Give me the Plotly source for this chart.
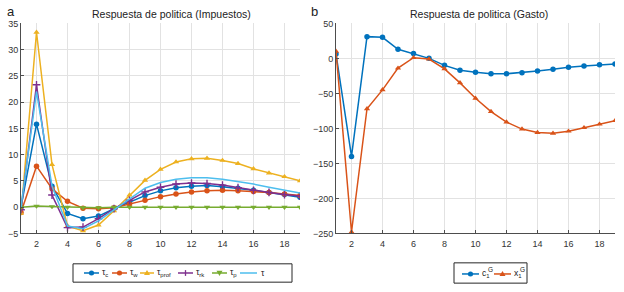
import plotly.graph_objects as go

periods = list(range(1, 20))

tau_c = [0.0, 15.8, 4.0, -1.2, -2.2, -1.7, -0.3, 1.0, 2.2, 3.1, 3.7, 4.0, 4.1, 3.9, 3.6, 3.2, 2.8, 2.4, 1.9]
tau_w = [-1.0, 7.8, 3.5, 1.1, -0.2, -0.3, -0.1, 0.6, 1.3, 2.0, 2.5, 2.9, 3.1, 3.2, 3.1, 3.0, 2.8, 2.5, 2.2]
tau_prof = [-1.2, 33.3, 8.1, -3.6, -4.5, -3.4, -0.7, 2.3, 5.1, 7.2, 8.6, 9.2, 9.3, 8.9, 8.3, 7.3, 6.5, 5.8, 5.0]
tau_rk = [-0.5, 23.3, 2.3, -3.9, -3.8, -2.2, -0.3, 1.3, 2.9, 3.8, 4.4, 4.6, 4.5, 4.2, 3.7, 3.2, 2.8, 2.4, 2.1]
tau_p = [0.0, 0.2, 0.1, 0.0, -0.1, -0.1, 0.0, 0.0, 0.0, 0.0, 0.0, 0.0, 0.0, 0.0, 0.0, 0.0, 0.0, 0.0, 0.0]
tau_all = [0.0, 22.0, 4.0, -3.6, -4.1, -2.6, -0.5, 1.6, 3.6, 4.7, 5.3, 5.6, 5.6, 5.3, 4.9, 4.4, 3.8, 3.2, 2.7]

c1G = [6.4, -140, 31, 30, 13, 7, 0, -10, -17, -20, -22, -22, -20.5, -18, -15.5, -12.7, -11, -9, -8]
x1G = [10, -248, -72, -45, -14, 1, -1, -15, -35, -57, -76, -91, -101, -106, -107, -104, -99, -94, -89]

left_names = ["τ<sub>c</sub>", "τ<sub>w</sub>", "τ<sub>prof</sub>", "τ<sub>rk</sub>", "τ<sub>p</sub>", "τ"]
right_names = ["c<sub>1</sub>", "x<sub>1</sub>"]
right_sups = ["G", "G"]

W, H = 624, 292
FONT = "Liberation Sans, Arial, sans-serif"


def px(x):
    return x / W


def py(y):
    return 1 - y / H


fig = go.Figure()

left_series = [
    (tau_c, "#0072BD", "circle"),
    (tau_w, "#D95319", "circle"),
    (tau_prof, "#EDB120", "triangle-up"),
    (tau_rk, "#7E2F8E", "cross-thin"),
    (tau_p, "#77AC30", "triangle-down"),
    (tau_all, "#4DBEEE", None),
]
for (vals, col, sym), name in zip(left_series, left_names):
    if sym:
        fig.add_trace(go.Scatter(x=periods, y=vals, name=name, mode="markers+lines",
                                 line=dict(color=col, width=1.5),
                                 marker=dict(color=col, size=5.5, symbol=sym,
                                             line=dict(color=col, width=1.4 if sym == "cross-thin" else 0)),
                                 xaxis="x", yaxis="y"))
    else:
        fig.add_trace(go.Scatter(x=periods, y=vals, name=name, mode="lines",
                                 line=dict(color=col, width=1.5), xaxis="x", yaxis="y"))

right_series = [(c1G, "#0072BD", "circle"), (x1G, "#D95319", "triangle-up")]
for (vals, col, sym), name in zip(right_series, right_names):
    fig.add_trace(go.Scatter(x=periods, y=vals, name=name, mode="markers+lines",
                             line=dict(color=col, width=1.5),
                             marker=dict(color=col, size=5.5, symbol=sym),
                             xaxis="x2", yaxis="y2"))

ytop = py(19)
ybot = py(236.5)
axis_common = dict(showline=True, linecolor="#4d4d4d", linewidth=1, mirror=False,
                   ticks="inside", ticklen=3, tickcolor="#4d4d4d",
                   showgrid=True, gridcolor="#e2e2e2", gridwidth=1, zeroline=False,
                   tickfont=dict(family=FONT, size=9, color="#333333"))

fig.update_layout(
    width=W, height=H,
    margin=dict(l=0, r=0, t=0, b=0),
    paper_bgcolor="white", plot_bgcolor="white",
    font=dict(family=FONT, size=9, color="#222222"),
    showlegend=False,
    xaxis=dict(domain=[px(21), px(300)], range=[1, 19], tickvals=list(range(2, 19, 2)),
               anchor="y", ticklabelstandoff=2, **axis_common),
    yaxis=dict(domain=[ybot, ytop], range=[-5, 35], tickvals=list(range(-5, 36, 5)),
               anchor="x", **axis_common),
    xaxis2=dict(domain=[px(336), px(615)], range=[1, 19], tickvals=list(range(2, 19, 2)),
                anchor="y2", ticklabelstandoff=2, **axis_common),
    yaxis2=dict(domain=[ybot, ytop], range=[-250, 50], tickvals=list(range(-250, 51, 50)),
                anchor="x2", **axis_common),
)

annos = [
    dict(text="Respuesta de politica (Impuestos)", x=171.5, y=9, size=10.5),
    dict(text="Respuesta de politica (Gasto)", x=479, y=9, size=10.5),
    dict(text="a", x=11, y=7, size=13),
    dict(text="b", x=314, y=7, size=13),
]
for a in annos:
    fig.add_annotation(text=a["text"], x=px(a["x"]), y=py(a["y"]), xref="paper", yref="paper",
                       showarrow=False, xanchor="center", yanchor="middle",
                       font=dict(family=FONT, size=a["size"], color="#222222"))


# ----- legends drawn as layout decorations -----
def legend_marker(sym, col, cx, cy):
    r = 2.6
    if sym == "circle":
        fig.add_shape(type="circle", xref="paper", yref="paper",
                      x0=px(cx - r), x1=px(cx + r), y0=py(cy + r), y1=py(cy - r),
                      fillcolor=col, line=dict(color=col, width=0))
    elif sym in ("triangle-up", "triangle-down"):
        s = 1 if sym == "triangle-up" else -1
        path = "M {} {} L {} {} L {} {} Z".format(
            px(cx), py(cy - s * 3), px(cx - 3), py(cy + s * 2.2), px(cx + 3), py(cy + s * 2.2))
        fig.add_shape(type="path", xref="paper", yref="paper", path=path,
                      fillcolor=col, line=dict(color=col, width=0))
    elif sym == "cross-thin":
        fig.add_shape(type="line", xref="paper", yref="paper",
                      x0=px(cx), x1=px(cx), y0=py(cy - 3), y1=py(cy + 3),
                      line=dict(color=col, width=1.3))


def draw_legend(box, items, cy, sups=None):
    fig.add_shape(type="rect", xref="paper", yref="paper",
                  x0=px(box[0]), x1=px(box[1]), y0=py(box[3]), y1=py(box[2]),
                  line=dict(color="#262626", width=1), fillcolor="white", layer="above")
    for i, ((x0, x1, tx), (col, sym), name) in enumerate(items):
        fig.add_shape(type="line", xref="paper", yref="paper",
                      x0=px(x0), x1=px(x1), y0=py(cy), y1=py(cy),
                      line=dict(color=col, width=1.5))
        if sym:
            legend_marker(sym, col, (x0 + x1) / 2, cy)
        fig.add_annotation(text=name, x=px(tx), y=py(cy), xref="paper", yref="paper",
                           showarrow=False, xanchor="left", yanchor="middle",
                           font=dict(family=FONT, size=8.5, color="#222222"))
        if sups:
            fig.add_annotation(text=sups[i], x=px(tx + 6), y=py(cy - 4.5), xref="paper", yref="paper",
                               showarrow=False, xanchor="left", yanchor="middle",
                               font=dict(family=FONT, size=6.5, color="#222222"))


left_slots = [(84, 99, 99.5), (112, 127, 127.5), (140, 154, 154.5),
              (178, 193, 193.5), (212, 227, 227.5), (240, 257, 258.5)]
draw_legend((73, 292, 268, 287),
            list(zip(left_slots, [(c, s) for _, c, s in left_series], left_names)), 277.5)

right_slots = [(462, 479, 479.5), (494, 511, 511.5)]
draw_legend((454, 527, 267, 288),
            list(zip(right_slots, [(c, s) for _, c, s in right_series], right_names)), 278.5,
            sups=right_sups)

fig.write_html("out.html", config={"displayModeBar": False},
               post_script="document.body.style.margin='0px';")
